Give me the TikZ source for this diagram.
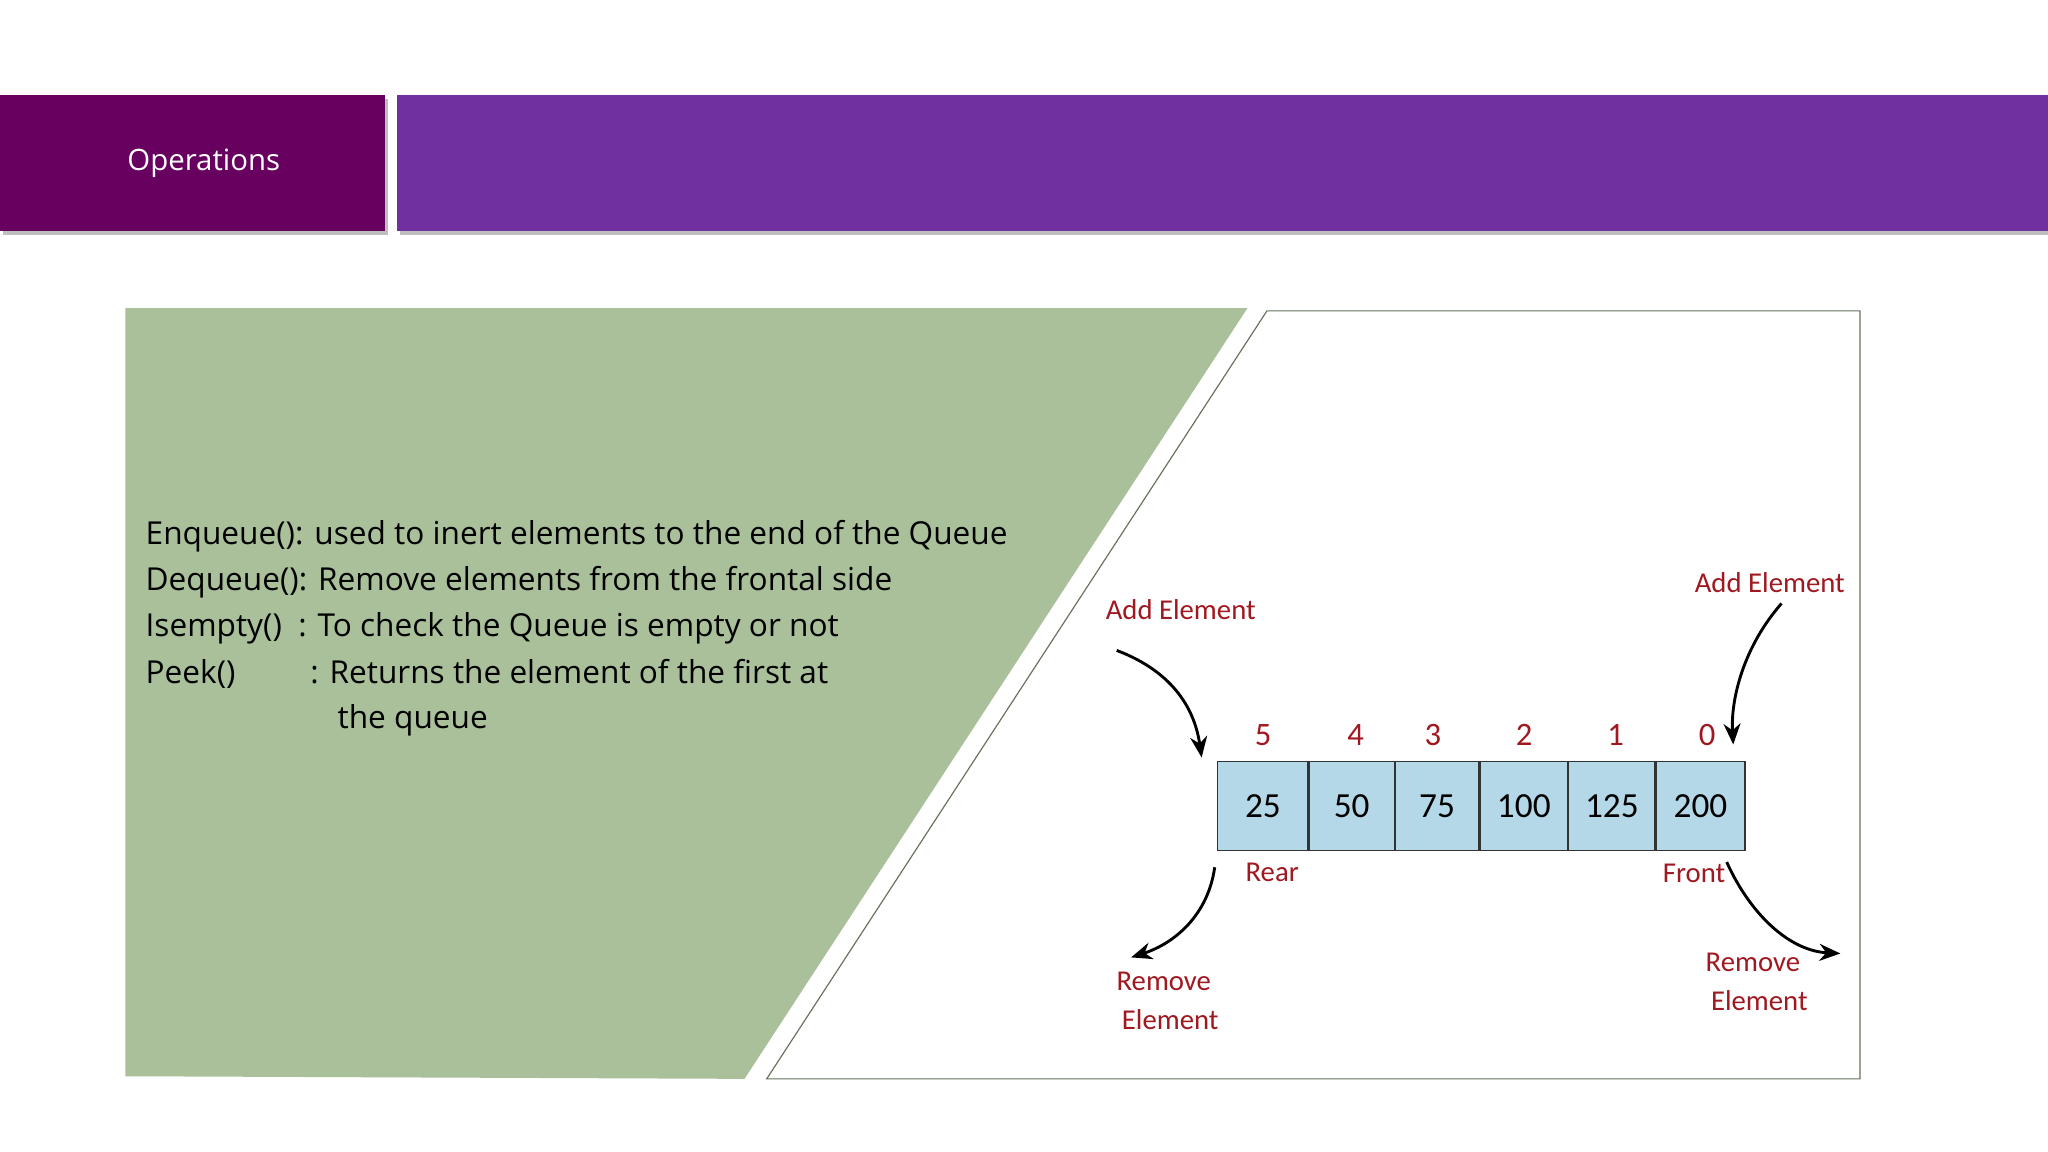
\documentclass[tikz,border=0pt]{standalone}
\usepackage{fontspec}
\setmainfont{Carlito}
\newfontfamily\osans{Open Sans}
\usetikzlibrary{arrows.meta}
\definecolor{darkmag}{HTML}{680060}
\definecolor{purp}{HTML}{7030A0}
\definecolor{sage}{HTML}{A9C09A}
\definecolor{cellblue}{HTML}{B4D8E7}
\definecolor{idxred}{HTML}{A01820}
\tikzset{
  cell/.style={draw=black!80, line width=0.9pt, fill=cellblue, minimum width=#1, minimum height=68pt, inner sep=0pt, font=\fontsize{27}{27}\selectfont, anchor=west},
  idx/.style={text=idxred, font=\fontsize{25}{25}\selectfont},
  lbl/.style={text=idxred, font=\fontsize{22}{30}\selectfont, align=center},
  arr/.style={-{Stealth[length=16pt,width=13pt]}, line width=2.2pt},
  body/.style={font=\osans\fontsize{24.2}{35}\selectfont, anchor=base west}
}
\begin{document}
\begin{tikzpicture}[x=1pt,y=-1pt]
\useasboundingbox (0,0) rectangle (1568,882);
\fill[white] (0,0) rectangle (1568,882);
% header
\fill[black!25] (2,76) rectangle (297,180);
\fill[black!25] (306,76) rectangle (1568,180);
\fill[darkmag] (0,73) rectangle (295,177);
\fill[purp] (304,73) rectangle (1568,177);
\node[text=white, font=\osans\fontsize{22.5}{25}\selectfont] (title) at (156,125) {Operations};
% green panel
\fill[sage] (96,236) -- (955,236) -- (570,826) -- (96,824) -- cycle;
\draw[sage!60!black, line width=0.9pt, fill=white] (970,238) -- (1424,238) -- (1424,826) -- (587,826) -- cycle;
% text
\node[body] (t1) at (108,417) {Enqueue(): used to inert elements to the end of the Queue};
\node[body] (t2) at (108,452) {Dequeue(): Remove elements from the frontal side};
\node[body] (t3) at (108,487) {Isempty()\ \ : To check the Queue is empty or not};
\node[body] (t4) at (108,523) {Peek()};
\node[body] (t4b) at (234,523) {: Returns the element of the first at};
\node[body] (t5) at (255,558) {the queue};
% cells
\node[cell=69pt] (c25) at (932,617) {25};
\node[cell=65pt] (c50) at (c25.east) {50};
\node[cell=64pt] (c75) at (c50.east) {75};
\node[cell=67pt] (c100) at (c75.east) {100};
\node[cell=66pt] (c125) at (c100.east) {125};
\node[cell=68pt] (c200) at (c125.east) {200};
\node[idx] (i5) at (967,563) {5};
\node[idx] (i4) at (1038,563) {4};
\node[idx] (i3) at (1097,563) {3};
\node[idx] (i2) at (1167,563) {2};
\node[idx] (i1) at (1237,563) {1};
\node[idx] (i0) at (1307,563) {0};
\node[lbl] (addL) at (904,467) {Add Element};
\node[lbl] (addR) at (1355,446) {Add Element};
\node[lbl] (rear) at (974,668) {Rear};
\node[lbl] (front) at (1297,669) {Front};
\node[lbl] (remL) at (891,766) {Remove\\\ \ Element};
\node[lbl] (remR) at (1342,752) {Remove\\\ \ Element};
\coordinate (a1s) at (855,498); \coordinate (a1e) at (920,580);
\coordinate (a2s) at (1364,462); \coordinate (a2e) at (1327,570);
\coordinate (a3s) at (930,664); \coordinate (a3e) at (866,733);
\coordinate (a4s) at (1322,660); \coordinate (a4e) at (1409,730);
\draw[arr] (a1s) .. controls (900,515) and (915,545) .. (a1e);
\draw[arr] (a2s) .. controls (1335,495) and (1325,535) .. (a2e);
\draw[arr] (a3s) .. controls (925,700) and (900,722) .. (a3e);
\draw[arr] (a4s) .. controls (1340,700) and (1370,728) .. (a4e);
\end{tikzpicture}
\end{document}
